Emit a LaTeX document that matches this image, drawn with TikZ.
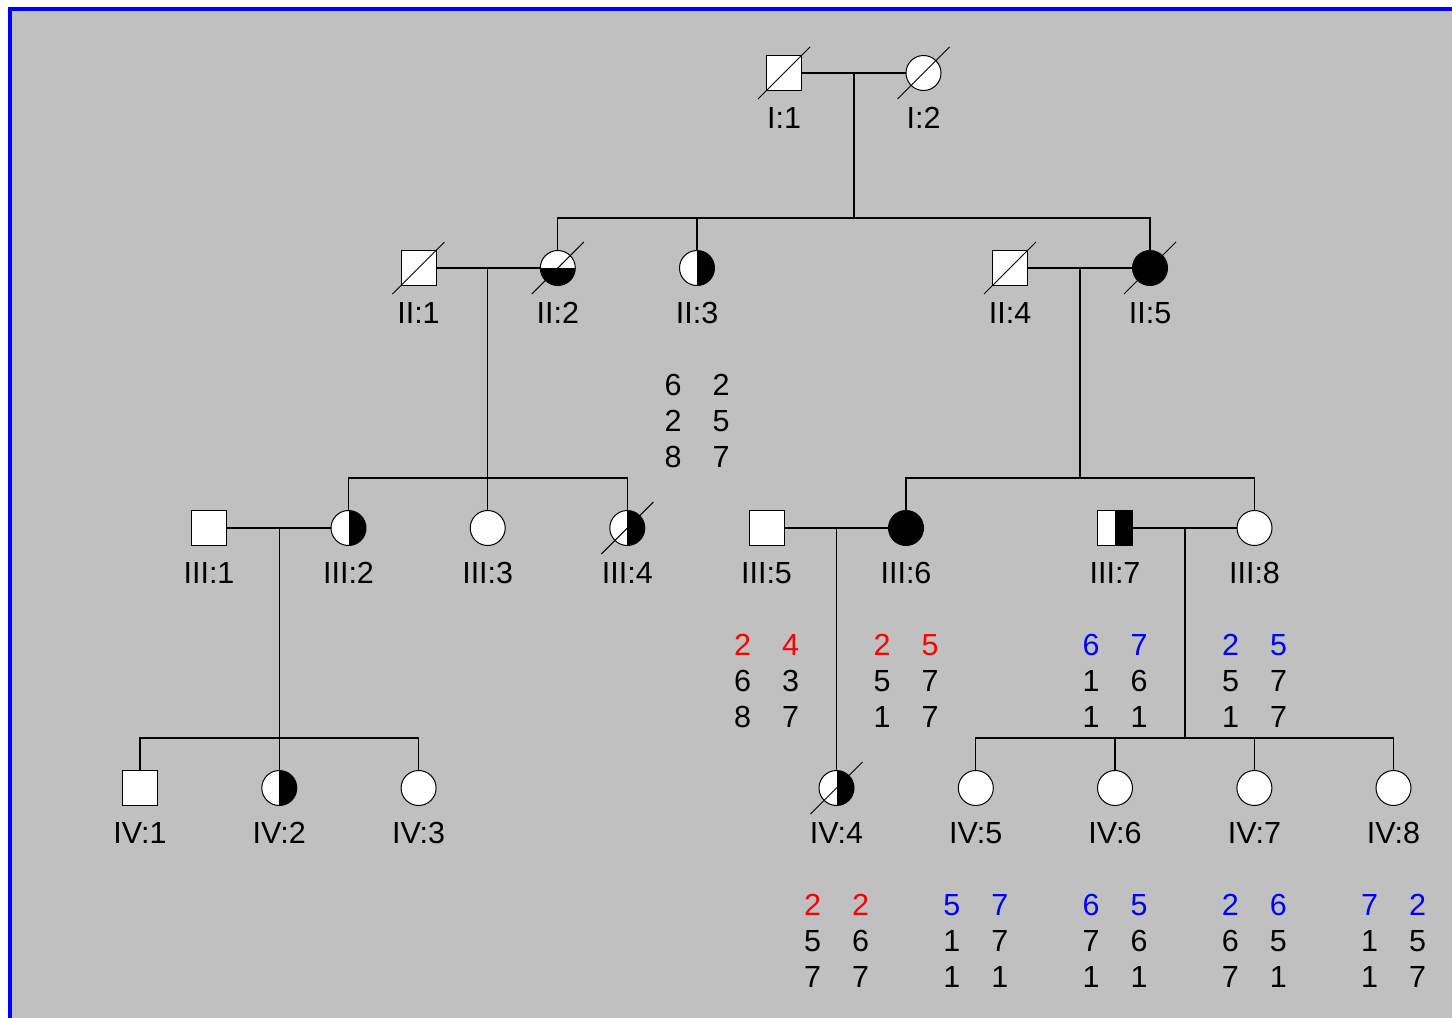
\documentclass[tikz,border=0pt]{standalone}
\usepackage{fontspec}
\setmainfont{Liberation Sans}
\definecolor{bggray}{RGB}{192,192,192}

% haplotype block: name, centre x, baseline of first row, colour of first row, rows a/b,...
\newcommand\haplo[5]{%
  \foreach \a/\b [count=\r] in {#5}{%
    \ifnum\r=1 \def\hc{#4}\else\def\hc{black}\fi
    \node[num,text=\hc] (#1-\r-a) at ({#2-24},{#3+(\r-1)*36}) {\a};
    \node[num,text=\hc] (#1-\r-b) at ({#2+24},{#3+(\r-1)*36}) {\b};
  }}
% deceased mark through an individual
\newcommand\deceased[1]{%
  \draw[slash] ([shift={(-26pt,-26pt)}]#1.center) -- ([shift={(26pt,26pt)}]#1.center);}

\begin{document}
\begin{tikzpicture}[x=1pt,y=-1pt,
  line width=1.3pt,
  ind/.style={draw=black, fill=white, line width=1pt, inner sep=0pt, minimum size=35pt},
  male/.style={ind, rectangle},
  female/.style={ind, circle},
  rightaff/.style={path picture={\fill[black] (path picture bounding box.north) rectangle (path picture bounding box.south east);}},
  lowaff/.style={path picture={\fill[black] (path picture bounding box.west) rectangle (path picture bounding box.south east);}},
  aff/.style={fill=black},
  lbl/.style={anchor=base, inner sep=0pt, font=\fontsize{30.5}{36}\selectfont},
  num/.style={lbl},
  slash/.style={line width=1pt},
]
\useasboundingbox (0,0) rectangle (1452,1018);
\clip (0,0) rectangle (1452,1018);
\fill[white] (0,0) rectangle (1452,1018);
\draw[blue, line width=4pt, fill=bggray] (9.5,8.7) rectangle (1480,1050);

% generation I
\node[male] (I1) at (784,73) {};
\node[female] (I2) at (923.5,73) {};
% generation II
\node[male] (II1) at (418.5,268) {};
\node[female,lowaff] (II2) at (557.8,268) {};
\node[female,rightaff] (II3) at (697,268) {};
\node[male] (II4) at (1010,268) {};
\node[female,aff] (II5) at (1150,268) {};
% generation III
\node[male] (III1) at (209,528) {};
\node[female,rightaff] (III2) at (348.5,528) {};
\node[female] (III3) at (487.7,528) {};
\node[female,rightaff] (III4) at (627.3,528) {};
\node[male] (III5) at (766.5,528) {};
\node[female,aff] (III6) at (906,528) {};
\node[male,rightaff] (III7) at (1115,528) {};
\node[female] (III8) at (1254.5,528) {};
% generation IV
\node[male] (IV1) at (140,788) {};
\node[female,rightaff] (IV2) at (279.3,788) {};
\node[female] (IV3) at (418.6,788) {};
\node[female,rightaff] (IV4) at (836.5,788) {};
\node[female] (IV5) at (975.8,788) {};
\node[female] (IV6) at (1115,788) {};
\node[female] (IV7) at (1254.4,788) {};
\node[female] (IV8) at (1393.5,788) {};

\foreach \n in {I1,I2,II1,II2,II4,II5,III4,IV4} {\deceased{\n}}

% labels
\foreach \n/\t in {I1/I:1, I2/I:2, II1/II:1, II2/II:2, II3/II:3, II4/II:4, II5/II:5,
  III1/III:1, III2/III:2, III3/III:3, III4/III:4, III5/III:5, III6/III:6, III7/III:7, III8/III:8,
  IV1/IV:1, IV2/IV:2, IV3/IV:3, IV4/IV:4, IV5/IV:5, IV6/IV:6, IV7/IV:7, IV8/IV:8}
  {\node[lbl] (l\n) at ([yshift=-55.5pt]\n.center) {\t};}

% matings and sibships
\coordinate (cI) at (854,73);
\coordinate (sI) at (854,218);
\draw (I1.east) -- (I2.west);
\draw (cI) -- (sI);
\draw (sI) -| (II2.north);
\draw (sI) -| (II3.north);
\draw (sI) -| (II5.north);

\coordinate (cII12) at (487.7,268);
\coordinate (sII12) at (487.7,478);
\draw (II1.east) -- (II2.west);
\draw (cII12) -- (sII12);
\draw (sII12) -| (III2.north);
\draw (sII12) -| (III3.north);
\draw (sII12) -| (III4.north);

\coordinate (cII45) at (1080,268);
\coordinate (sII45) at (1080,478);
\draw (II4.east) -- (II5.west);
\draw (cII45) -- (sII45);
\draw (sII45) -| (III6.north);
\draw (sII45) -| (III8.north);

\coordinate (cIII12) at (279.3,528);
\coordinate (sIII12) at (279.3,738);
\draw (III1.east) -- (III2.west);
\draw (cIII12) -- (sIII12);
\draw (sIII12) -| (IV1.north);
\draw (sIII12) -| (IV2.north);
\draw (sIII12) -| (IV3.north);

\coordinate (cIII56) at (836.5,528);
\draw (III5.east) -- (III6.west);
\draw (cIII56) -- (IV4.north);

\coordinate (cIII78) at (1185,528);
\coordinate (sIII78) at (1185,738);
\draw (III7.east) -- (III8.west);
\draw (cIII78) -- (sIII78);
\draw (sIII78) -| (IV5.north);
\draw (sIII78) -| (IV6.north);
\draw (sIII78) -| (IV7.north);
\draw (sIII78) -| (IV8.north);

% haplotypes
\haplo{hII}{697}{395.5}{black}{6/2,2/5,8/7}
\haplo{hIIIv}{766.5}{655.5}{red}{2/4,6/3,8/7}
\haplo{hIIIvi}{906}{655.5}{red}{2/5,5/7,1/7}
\haplo{hIIIvii}{1115}{655.5}{blue}{6/7,1/6,1/1}
\haplo{hIIIviii}{1254.5}{655.5}{blue}{2/5,5/7,1/7}
\haplo{hIViv}{836.5}{915.5}{red}{2/2,5/6,7/7}
\haplo{hIVv}{975.8}{915.5}{blue}{5/7,1/7,1/1}
\haplo{hIVvi}{1115}{915.5}{blue}{6/5,7/6,1/1}
\haplo{hIVvii}{1254.4}{915.5}{blue}{2/6,6/5,7/1}
\haplo{hIVviii}{1393.5}{915.5}{blue}{7/2,1/5,1/7}
\end{tikzpicture}
\end{document}
